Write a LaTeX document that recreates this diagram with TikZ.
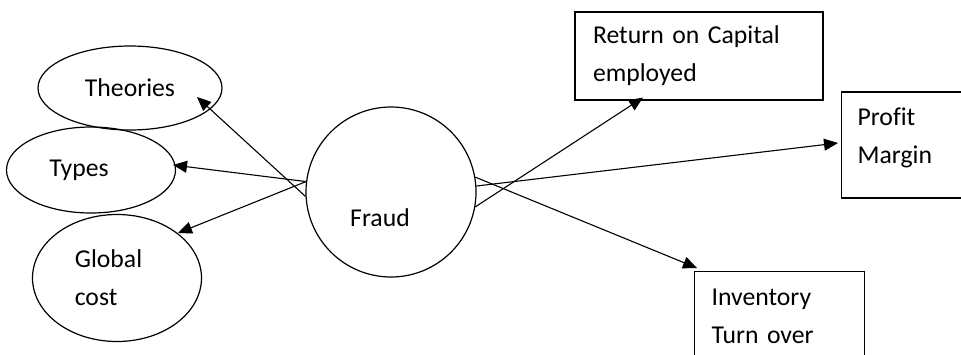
\documentclass[tikz,border=0pt]{standalone}
\usepackage{fontspec}
\setmainfont{Carlito}[Ligatures=CommonOff]
\usetikzlibrary{calc,positioning,arrows.meta,shapes.geometric}

\begin{document}
\begin{tikzpicture}[x=0.5pt, y=-0.5pt,
	every node/.style={font=\fontsize{12.85pt}{19pt}\selectfont},
	oval/.style={draw, ellipse, inner sep=0pt, line width=0.6pt},
	ratio/.style={draw, rectangle, align=left, inner ysep=0pt, line width=0.6pt},
	link/.style={-{Triangle[length=7pt, width=6pt]}, line width=0.55pt}]
\useasboundingbox (0,0) rectangle (961,354);
\clip (0,0) rectangle (961,354);

	\node[oval, minimum width=92pt, minimum height=42pt] (theories) at (130, 88) {Theories};
	\node[oval, minimum width=84.5pt, minimum height=43pt,
		label={[shift={(-12,0)}]center:Types}] (types) at (91, 170) {};
	\node[oval, minimum width=84.5pt, minimum height=63.5pt,
		label={[shift={(-8.5,0)}, align=left]center:Global\\cost}] (global) at (117, 278) {};
	\node[oval, circle, minimum size=85pt,
		label={[shift={(-11,26)}]center:Fraud}] (fraud) at (391, 192) {};

	\node[ratio, minimum width=124pt, minimum height=44pt, inner xsep=9pt, text width=106pt] (roce) at (699, 56)
		{Return on Capital\\employed};
	\node[ratio, anchor=west, minimum width=75pt, minimum height=53pt, inner xsep=8pt, text width=59pt,
		text depth=28.5pt] (profit) at (841, 145)
		{Profit\\Margin};
	\node[ratio, anchor=north west, minimum width=85pt, minimum height=44.5pt, inner xsep=8.5pt, text width=68pt] (inv) at (694, 271)
		{Inventory\\Turn over};

	% left side
	\draw[link] (fraud.183) -- ($(theories)+(67,9)$);
	\draw[link] (fraud.173) -- ($(types)+(82,-5)$);
	\draw[link] (fraud.173) -- ($(global)+(61,-45)$);
	% right side
	\draw[link] (fraud.-10) -- ($(roce.south)+(-56,-3)$);
	\draw[link] (fraud.4) -- ($(profit.west)+(-3,-2)$);
	\draw[link] (fraud.10) -- ($(inv.north west)+(3,-3)$);
\end{tikzpicture}
\end{document}
